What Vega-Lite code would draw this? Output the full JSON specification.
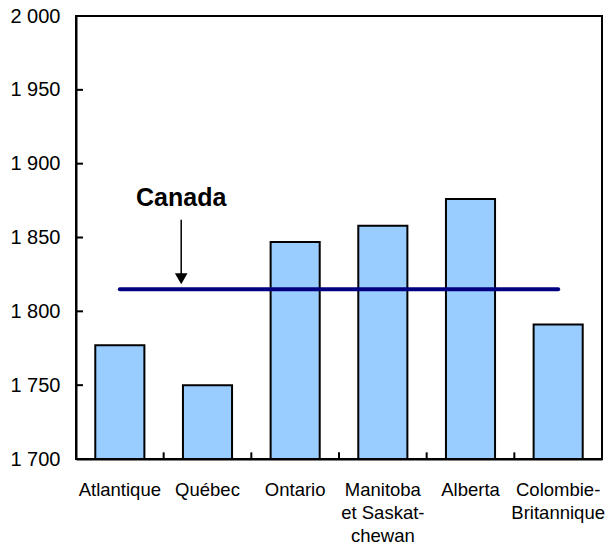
{
  "$schema": "https://vega.github.io/schema/vega-lite/v6.json",
  "width": 526,
  "height": 443,
  "autosize": {"type": "none"},
  "padding": {"left": 76, "top": 16, "right": 6, "bottom": 89},
  "background": "white",
  "config": {
    "view": {"stroke": "black", "strokeWidth": 2},
    "font": "Liberation Sans",
    "axis": {"grid": false, "domainColor": "black", "domainWidth": 2, "ticks": false, "labelColor": "black", "title": null}
  },
  "datasets": {
    "regions": [
      {"region": "Atlantique", "value": 1777, "base": 1700, "canada": 1815},
      {"region": "Québec", "value": 1750, "base": 1700, "canada": 1815},
      {"region": "Ontario", "value": 1847, "base": 1700, "canada": 1815},
      {"region": "Manitoba et Saskatchewan", "value": 1858, "base": 1700, "canada": 1815},
      {"region": "Alberta", "value": 1876, "base": 1700, "canada": 1815},
      {"region": "Colombie-Britannique", "value": 1791, "base": 1700, "canada": 1815}
    ],
    "annotation": [
      {"pos": 1.2, "top": 1862, "bottom": 1822, "head": 1822, "label": "Canada", "labelY": 1871}
    ],
    "yticks": [{"v": 1750}, {"v": 1800}, {"v": 1850}, {"v": 1900}, {"v": 1950}],
    "xticks": [{"b": 1}, {"b": 2}, {"b": 3}, {"b": 4}, {"b": 5}]
  },
  "layer": [
    {
      "data": {"name": "regions"},
      "encoding": {
        "x": {
          "field": "region", "type": "nominal", "sort": null,
          "scale": {"type": "band", "paddingInner": 0.44, "paddingOuter": 0.22},
          "axis": {
            "labelAngle": 0, "labelPadding": 21,
            "labelFontSize": 18.5, "labelLineHeight": 23, "labelBaseline": "top",
            "labelExpr": "datum.label == 'Manitoba et Saskatchewan' ? ['Manitoba', 'et Saskat-', 'chewan'] : datum.label == 'Colombie-Britannique' ? ['Colombie-', 'Britannique'] : datum.label"
          }
        }
      },
      "layer": [
        {
          "mark": {"type": "bar", "fill": "#99CCFF", "stroke": "black", "strokeWidth": 2, "clip": true},
          "encoding": {
            "y": {
              "field": "value", "type": "quantitative",
              "scale": {"domain": [1700, 2000], "zero": false, "nice": false},
              "axis": {
                "values": [1700, 1750, 1800, 1850, 1900, 1950, 2000],
                "labelPadding": 16, "labelFontSize": 20,
                "labelExpr": "replace(format(datum.value, ',d'), ',', ' ')"
              }
            },
            "y2": {"field": "base"}
          }
        },
        {
          "mark": {"type": "line", "color": "#000080", "strokeWidth": 4, "strokeCap": "round"},
          "encoding": {"y": {"field": "canada", "type": "quantitative"}}
        }
      ]
    },
    {
      "encoding": {
        "x": {"type": "quantitative", "scale": {"domain": [0, 6], "nice": false, "zero": false}, "axis": null}
      },
      "layer": [
        {
          "data": {"name": "yticks"},
          "mark": {"type": "rule", "color": "black", "strokeWidth": 2},
          "encoding": {
            "x": {"datum": 0, "type": "quantitative"},
            "x2": {"datum": 0.08},
            "y": {"field": "v", "type": "quantitative"}
          }
        },
        {
          "data": {"name": "xticks"},
          "mark": {"type": "rule", "color": "black", "strokeWidth": 2},
          "encoding": {
            "x": {"field": "b", "type": "quantitative"},
            "y": {"datum": 1700, "type": "quantitative"},
            "y2": {"datum": 1704.5}
          }
        },
        {
          "data": {"name": "annotation"},
          "mark": {"type": "rule", "color": "black", "strokeWidth": 1.5},
          "encoding": {
            "x": {"field": "pos", "type": "quantitative"},
            "y": {"field": "top", "type": "quantitative"},
            "y2": {"field": "bottom"}
          }
        },
        {
          "data": {"name": "annotation"},
          "mark": {"type": "point", "shape": "triangle-down", "filled": true, "color": "black", "size": 160, "opacity": 1},
          "encoding": {
            "x": {"field": "pos", "type": "quantitative"},
            "y": {"field": "head", "type": "quantitative"}
          }
        },
        {
          "data": {"name": "annotation"},
          "mark": {"type": "text", "fontWeight": "bold", "fontSize": 25, "baseline": "alphabetic", "align": "center", "color": "black"},
          "encoding": {
            "x": {"field": "pos", "type": "quantitative"},
            "y": {"field": "labelY", "type": "quantitative"},
            "text": {"field": "label"}
          }
        }
      ]
    }
  ],
  "resolve": {"scale": {"x": "independent"}}
}
